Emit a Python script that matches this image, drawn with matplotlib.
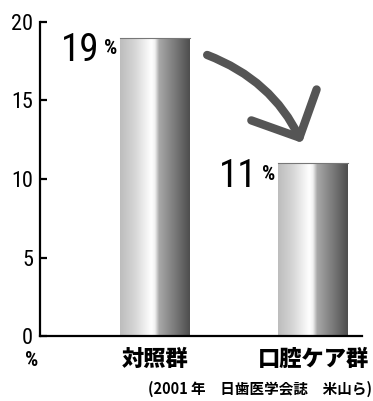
import numpy as np
import matplotlib.pyplot as plt
from matplotlib.colors import LinearSegmentedColormap

# データ
groups = ["対照群", "口腔ケア群"]
rates = [19, 11]
yticks = [0, 5, 10, 15, 20]
source = "(2001 年　日歯医学会誌　米山ら)"

jp = ["Noto Sans CJK JP", "DejaVu Sans"]
num = ["Roboto Condensed", "DejaVu Sans"]

fig = plt.figure(figsize=(3.73, 4.01), dpi=100)
ax = fig.add_axes([40 / 373, 1 - 336 / 401, 322 / 373, 314 / 401])

# 棒のグラデーション (左: 薄いグレー -> 白 -> 右: 濃いグレー)
grad = LinearSegmentedColormap.from_list("bar", [
    (0.0, "#bdbdbd"), (0.2, "#d4d4d4"), (0.45, "#ffffff"),
    (0.5, "#f2f2f2"), (0.56, "#a8a8a8"), (1.0, "#4e4e4e")])

x = np.arange(len(groups))
width = 0.443
bars = ax.bar(x, rates, width=width, color="none", edgecolor="none")
g = np.linspace(0, 1, 256).reshape(1, -1)
for b in bars:
    im = ax.imshow(g, cmap=grad, aspect="auto", interpolation="bilinear",
                   extent=[b.get_x(), b.get_x() + b.get_width(), 0, b.get_height()],
                   zorder=2)
    im.set_clip_path(b)
    ax.plot([b.get_x(), b.get_x() + b.get_width()], [b.get_height()] * 2,
            color="#777777", lw=0.8, zorder=3)

ax.set_xlim(-0.728, 1.31)
ax.set_ylim(0, 20)

for s in ["top", "right"]:
    ax.spines[s].set_visible(False)
ax.spines["left"].set_linewidth(1.6)
ax.spines["bottom"].set_linewidth(1.6)
ax.set_yticks(yticks)
ax.set_yticklabels([str(v) for v in yticks], fontsize=16, family=num)
ax.tick_params(axis="y", direction="in", length=5, width=1.6, pad=5)
ax.set_xticks([])

# 値ラベル
for b, v in zip(bars, rates):
    ax.annotate("%", xy=(b.get_x(), v), xytext=(-2, -12), textcoords="offset points",
                ha="right", va="baseline", fontsize=15, fontweight="bold", family=num)
    ax.annotate(str(v), xy=(b.get_x(), v), xytext=(-15, -17), textcoords="offset points",
                ha="right", va="baseline", fontsize=28, family=num)

# 矢印
ax.annotate("", xy=(0.93, 12.3), xytext=(0.33, 17.9),
            arrowprops=dict(arrowstyle="->,head_length=1.0,head_width=1.0",
                            connectionstyle="arc3,rad=-0.2", color="#555555",
                            lw=6, mutation_scale=26, capstyle="round",
                            joinstyle="round", shrinkA=0, shrinkB=0))

# 軸ラベル・群名
fig.text(32 / 373, 1 - 361 / 401, "%", ha="center", va="center",
         fontsize=15, fontweight="bold", family=num)
for xi, name in zip(x, groups):
    ax.annotate(name, xy=(xi, 0), xytext=(0, -17), textcoords="offset points",
                ha="center", va="center", fontsize=16, fontweight="heavy", family=jp)
fig.text(372 / 373, 1 - 389 / 401, source, ha="right", va="center",
         fontsize=10.5, fontweight="bold", family=jp)

fig.savefig("out.png", dpi=100)
